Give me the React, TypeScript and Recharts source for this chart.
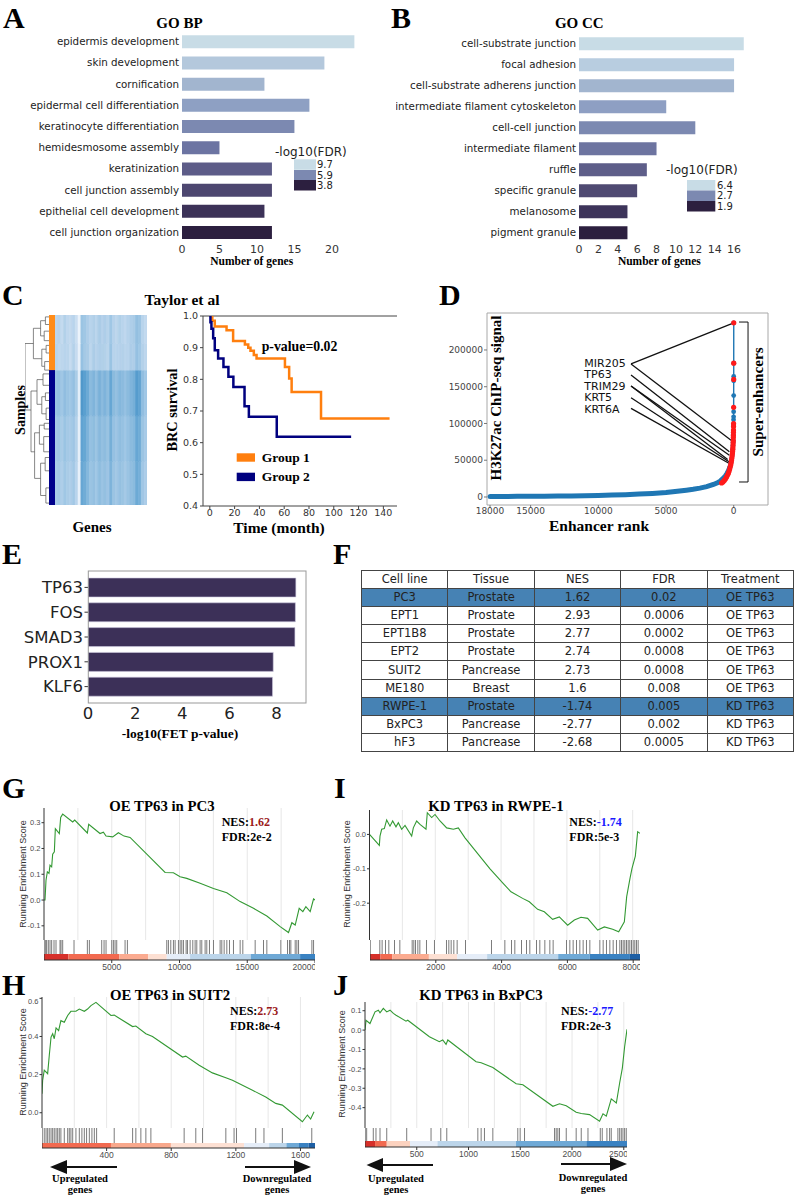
import React from "react";
import {
  BarChart, Bar, XAxis, YAxis, Cell, ComposedChart, LineChart, Line, Scatter,
  ReferenceLine, ReferenceArea,
} from "recharts";

const SANS = "'DejaVu Sans', sans-serif";
const SERIF = "'Liberation Serif', 'Times New Roman', serif";
const ARIAL = "'Liberation Sans', Arial, sans-serif";

// ---------------- Panel A (GO BP) ----------------
const bpTerms = ["epidermis development", "skin development", "cornification", "epidermal cell differentiation", "keratinocyte differentiation", "hemidesmosome assembly", "keratinization", "cell junction assembly", "epithelial cell development", "cell junction organization"];
const bpGenes = [23, 19, 11, 17, 15, 5, 12, 12, 11, 12];
const bpColors = ["#c8dce6", "#b4c8dc", "#a2b5cf", "#8ea0c3", "#7c89b1", "#6c74a2", "#5d5c88", "#4d4770", "#3c3258", "#2c1f3f"];
const bpLegendValues = ["9.7", "5.9", "3.8"];
const bpTicks = [0, 5, 10, 15, 20];

// ---------------- Panel B (GO CC) ----------------
const ccTerms = ["cell-substrate junction", "focal adhesion", "cell-substrate adherens junction", "intermediate filament cytoskeleton", "cell-cell junction", "intermediate filament", "ruffle", "specific granule", "melanosome", "pigment granule"];
const ccGenes = [17, 16, 16, 9, 12, 8, 7, 6, 5, 5];
const ccColors = ["#c8dce6", "#b8cde0", "#a2b5cf", "#8e9fc3", "#7c89b1", "#6d74a0", "#5e5e89", "#4f4a72", "#3d345a", "#2c1f3f"];
const ccLegendValues = ["6.4", "2.7", "1.9"];
const ccTicks = [0, 2, 4, 6, 8, 10, 12, 14, 16];
const legendColors = ["#c8dce6", "#7c89b1", "#2c1f3f"];

// ---------------- Panel C (heatmap + KM) ----------------
const heatG1a = [0.28, 0.30, 0.25, 0.32, 0.27, 0.26, 0.30, 0.22, 0.06, 0.42, 0.40, 0.34, 0.30, 0.33, 0.29, 0.36, 0.31, 0.34, 0.30, 0.40, 0.31, 0.28, 0.33, 0.30, 0.27, 0.31, 0.34, 0.36, 0.45, 0.42, 0.30, 0.26];
const heatG1b = [0.30, 0.27, 0.28, 0.30, 0.29, 0.24, 0.32, 0.24, 0.08, 0.44, 0.38, 0.36, 0.28, 0.35, 0.31, 0.34, 0.33, 0.32, 0.29, 0.42, 0.30, 0.30, 0.31, 0.32, 0.29, 0.30, 0.35, 0.34, 0.44, 0.40, 0.32, 0.28];
const heatG2a = [0.42, 0.44, 0.40, 0.46, 0.42, 0.40, 0.45, 0.36, 0.10, 0.68, 0.64, 0.58, 0.48, 0.52, 0.46, 0.54, 0.48, 0.52, 0.47, 0.60, 0.48, 0.45, 0.50, 0.48, 0.44, 0.48, 0.52, 0.55, 0.66, 0.62, 0.46, 0.40];
const heatG2b = [0.38, 0.40, 0.36, 0.42, 0.38, 0.37, 0.41, 0.32, 0.09, 0.62, 0.60, 0.52, 0.44, 0.47, 0.42, 0.49, 0.45, 0.47, 0.43, 0.55, 0.44, 0.41, 0.46, 0.44, 0.40, 0.44, 0.48, 0.50, 0.60, 0.57, 0.42, 0.37];
const heatG2c = [0.36, 0.38, 0.34, 0.40, 0.36, 0.34, 0.39, 0.30, 0.08, 0.60, 0.57, 0.50, 0.42, 0.45, 0.40, 0.47, 0.42, 0.45, 0.41, 0.52, 0.42, 0.39, 0.44, 0.42, 0.38, 0.42, 0.46, 0.48, 0.58, 0.55, 0.40, 0.35];
const heatRowSamples = [15, 14, 24, 24, 23]; // top to bottom
const groupSamples = [29, 71]; // group 1, group 2
const dendroSegs = [
  [10, 15, 10, 50], [10, 15, 6.5, 15], [10, 50, 7.5, 50],
  [6.5, 7, 6.5, 23], [6.5, 7, 3.5, 7], [6.5, 23, 3, 23],
  [3.5, 3, 3.5, 11], [3.5, 3, 1.5, 3], [3.5, 11, 2, 11],
  [1.5, 1, 1.5, 5], [1.5, 1, 0, 1], [1.5, 5, 0, 5],
  [2, 8.5, 2, 13.5], [2, 8.5, 0, 8.5], [2, 13.5, 0, 13.5],
  [3, 18, 3, 27], [3, 18, 1.2, 18], [3, 27, 1.8, 27],
  [1.2, 16, 1.2, 20], [1.2, 16, 0, 16], [1.2, 20, 0, 20],
  [1.8, 24.5, 1.8, 29], [1.8, 24.5, 0, 24.5], [1.8, 29, 0, 29],
  [7.5, 40, 7.5, 72], [7.5, 40, 5, 40], [7.5, 72, 6, 72],
  [5, 34, 5, 47], [5, 34, 2.5, 34], [5, 47, 3, 47],
  [2.5, 31, 2.5, 37], [2.5, 31, 0, 31], [2.5, 37, 0, 37],
  [3, 43, 3, 52], [3, 43, 1.5, 43], [3, 52, 1.2, 52],
  [1.5, 41, 1.5, 45], [1.5, 41, 0, 41], [1.5, 45, 0, 45],
  [1.2, 49, 1.2, 55], [1.2, 49, 0, 49], [1.2, 55, 0, 55],
  [6, 62, 6, 86], [6, 62, 4, 62], [6, 86, 3.5, 86],
  [4, 58, 4, 68], [4, 58, 2, 58], [4, 68, 2.2, 68],
  [2, 57, 2, 60], [2, 57, 0, 57], [2, 60, 0, 60],
  [2.2, 64, 2.2, 72], [2.2, 64, 0, 64], [2.2, 72, 0, 72],
  [3.5, 78, 3.5, 95], [3.5, 78, 1.6, 78], [3.5, 95, 1.3, 95],
  [1.6, 75, 1.6, 82], [1.6, 75, 0, 75], [1.6, 82, 0, 82],
  [1.3, 91, 1.3, 99], [1.3, 91, 0, 91], [1.3, 99, 0, 99],
];
const km1Time = [0, 2, 4, 13.5, 18.8, 28.3, 31, 32.8, 35.5, 37.7, 60.6, 64, 66, 89.7, 145];
const km1Surv = [1.0, 0.985, 0.967, 0.955, 0.921, 0.91, 0.9, 0.89, 0.877, 0.866, 0.839, 0.803, 0.76, 0.676, 0.676];
const km2Time = [0, 0.5, 1.3, 2.7, 4, 6.7, 11, 15, 19, 28, 31.5, 54, 114];
const km2Surv = [1.0, 0.98, 0.96, 0.93, 0.892, 0.866, 0.839, 0.808, 0.776, 0.715, 0.682, 0.619, 0.619];
const kmTicksX = [0, 20, 40, 60, 80, 100, 120, 140];
const kmTicksY = [0.4, 0.5, 0.6, 0.7, 0.8, 0.9, 1.0];

// ---------------- Panel D (super-enhancers) ----------------
const blueRank = [18000, 17000, 16000, 15000, 14000, 13000, 12000, 11000, 10000, 9000, 8000, 7000, 6000, 5000, 4500, 4000, 3500, 3000, 2500, 2000, 1500, 1200, 1000, 800, 600, 500, 400, 300];
const blueSignal = [500, 700, 850, 950, 1050, 1200, 1400, 1700, 2100, 2600, 3200, 3900, 4800, 6000, 7000, 8200, 9300, 10500, 12000, 14000, 17000, 19500, 21500, 25000, 29000, 32000, 35500, 40000];
const blueTopRank = [300, 250, 200, 150, 120, 100, 80, 60, 50, 40, 30, 20, 15, 10, 7, 5, 3, 2, 1, 0];
const blueTopSignal = [40000, 43000, 47000, 52000, 56000, 60000, 65000, 70000, 74000, 77000, 85000, 98000, 105000, 109000, 116000, 138000, 158000, 164000, 182000, 237000];
const redRank = [0, 1, 3, 8, 12, 15, 18, 22, 26, 30, 36, 42, 50, 60, 70, 85, 100, 120, 140, 165, 190, 220, 260, 300, 350, 400, 470, 540, 620, 700, 800, 900];
const redSignal = [237000, 182000, 160000, 122000, 100000, 96000, 91000, 88000, 84000, 81000, 77000, 74000, 71000, 68000, 65000, 62000, 59000, 56000, 53000, 50000, 47000, 44000, 41000, 38000, 35000, 32000, 29500, 27000, 24500, 22500, 20500, 19000];
const geneLabels = ["MIR205", "TP63", "TRIM29", "KRT5", "KRT6A"];
const geneLabelSignal = [181000, 166000, 151000, 135000, 120500];
const geneLabelRank = 7585;
const geneLinks = [[0, 0, 237000], [0, 199, 77300], [1, 323, 61400], [2, 323, 56800], [2, 448, 50900], [3, 323, 47700], [4, 323, 45500]];
const dTicksX = [18000, 15000, 10000, 5000, 0];
const dTicksY = [0, 50000, 100000, 150000, 200000];

// ---------------- Panel E ----------------
const tfNames = ["TP63", "FOS", "SMAD3", "PROX1", "KLF6"];
const tfScores = [8.82, 8.8, 8.78, 7.86, 7.83];
const tfTicks = [0, 2, 4, 6, 8];

// ---------------- Panel F (table) ----------------
const tableHeader = ["Cell line", "Tissue", "NES", "FDR", "Treatment"];
const cellLines = ["PC3", "EPT1", "EPT1B8", "EPT2", "SUIT2", "ME180", "RWPE-1", "BxPC3", "hF3"];
const tissues = ["Prostate", "Prostate", "Prostate", "Prostate", "Pancrease", "Breast", "Prostate", "Pancrease", "Pancrease"];
const nesValues = ["1.62", "2.93", "2.77", "2.74", "2.73", "1.6", "-1.74", "-2.77", "-2.68"];
const fdrValues = ["0.02", "0.0006", "0.0002", "0.0008", "0.0008", "0.008", "0.005", "0.002", "0.0005"];
const treatments = ["OE TP63", "OE TP63", "OE TP63", "OE TP63", "OE TP63", "OE TP63", "KD TP63", "KD TP63", "KD TP63"];
const highlightedRows = ["PC3", "RWPE-1"];

// ---------------- GSEA panels ----------------
const gRank = [0, 74, 148, 246, 369, 443, 566, 640, 763, 837, 1132, 1231, 1379, 2117, 2265, 3200, 3299, 4136, 4382, 4579, 5071, 5490, 5908, 6352, 8937, 9552, 10044, 10536, 11521, 12506, 13491, 14476, 15460, 16445, 17430, 18045, 18292, 18538, 18833, 19104, 19326, 19646, 19892, 20000];
const gES = [0, 0, 0.077, 0.109, 0.103, 0.135, 0.129, 0.178, 0.187, 0.277, 0.258, 0.32, 0.333, 0.303, 0.31, 0.26, 0.294, 0.258, 0.263, 0.248, 0.245, 0.261, 0.248, 0.243, 0.107, 0.106, 0.09, 0.084, 0.065, 0.045, 0.028, -0.006, -0.032, -0.062, -0.103, -0.126, -0.088, -0.097, -0.032, -0.045, -0.026, -0.045, 0.004, 0.0];
const gHits = [123, 197, 320, 443, 566, 739, 886, 1182, 1256, 1379, 2216, 3200, 3348, 4259, 4432, 4579, 4998, 5121, 5244, 5367, 5983, 6155, 9060, 9183, 9356, 9552, 9676, 9922, 10045, 10168, 10291, 10488, 10587, 10784, 10981, 11153, 11276, 11522, 11645, 11891, 12014, 12212, 12507, 12999, 13122, 13295, 13492, 13689, 13984, 14476, 14673, 15584, 16200, 16446, 17480, 17972, 18120, 18218, 18538, 18661, 18785, 19770, 19893];
const gBars = [[0, 1800, "#d6302a"], [1800, 5560, "#f26a50"], [5560, 7700, "#fbab90"], [7700, 9060, "#fde0d3"], [9060, 10780, "#e5edf8"], [10780, 15260, "#bcd5ea"], [15260, 18900, "#6fa9d6"], [18900, 20000, "#3a82c2"]];

const iRank = [0, 299, 319, 370, 450, 522, 623, 704, 805, 876, 978, 1079, 1282, 1332, 1433, 1535, 1717, 1757, 1890, 1991, 2143, 2346, 2548, 2700, 2903, 3663, 4048, 4301, 4655, 4858, 5111, 5314, 5567, 5770, 6023, 6226, 6429, 6631, 6935, 7138, 7391, 7574, 7746, 7817, 7918, 7979, 8080, 8151, 8222];
const iES = [0, -0.032, -0.005, 0.015, 0.017, 0.042, 0.024, 0.039, 0.022, 0.034, 0.015, 0.026, -0.005, 0.019, 0.039, 0.029, 0.015, 0.063, 0.049, 0.058, 0.039, 0.019, 0.015, 0.019, -0.01, -0.1, -0.141, -0.167, -0.186, -0.196, -0.218, -0.225, -0.247, -0.24, -0.264, -0.249, -0.241, -0.244, -0.278, -0.269, -0.276, -0.283, -0.254, -0.181, -0.128, -0.099, -0.063, 0.008, 0.003];
const iHits = [298, 369, 471, 572, 745, 907, 1282, 1332, 1383, 1454, 1515, 1717, 1960, 2325, 2396, 2467, 2548, 2649, 2903, 3693, 4099, 4301, 4402, 4605, 4757, 4858, 5061, 5162, 5314, 5466, 5567, 5973, 6074, 6175, 6277, 6378, 6479, 6580, 6682, 6986, 7087, 7188, 7290, 7391, 7492, 7593, 7644, 7695, 7745, 7796, 7847, 7897, 7948, 7999, 8049, 8100, 8151];
const iBars = [[0, 320, "#d6302a"], [320, 680, "#f26a50"], [680, 1790, "#fbab90"], [1790, 2650, "#fde0d3"], [2650, 3560, "#e5edf8"], [3560, 5720, "#bcd5ea"], [5720, 6680, "#6fa9d6"], [6680, 7900, "#3a82c2"], [7900, 8222, "#1d5fa5"]];

const hRank = [0, 4, 14, 35, 45, 56, 66, 76, 87, 103, 117, 138, 159, 179, 210, 231, 262, 282, 303, 334, 427, 447, 561, 581, 643, 684, 870, 890, 973, 1055, 1138, 1179, 1303, 1385, 1447, 1488, 1612, 1643, 1663, 1684];
const hES = [0.10, 0.17, 0.223, 0.205, 0.30, 0.397, 0.414, 0.388, 0.445, 0.431, 0.483, 0.475, 0.51, 0.532, 0.532, 0.544, 0.532, 0.544, 0.562, 0.579, 0.51, 0.512, 0.452, 0.455, 0.414, 0.40, 0.292, 0.297, 0.249, 0.209, 0.184, 0.17, 0.118, 0.083, 0.049, 0.04, -0.047, -0.012, -0.033, 0.005];
const hHits = [14, 25, 35, 45, 56, 66, 76, 87, 97, 107, 117, 138, 159, 169, 179, 190, 210, 231, 247, 262, 276, 293, 309, 324, 338, 447, 561, 581, 612, 643, 674, 880, 952, 994, 1138, 1189, 1204, 1323, 1374, 1488, 1670];
const hBars = [[0, 427, "#f26a50"], [427, 798, "#f8a88c"], [798, 1251, "#fde0d3"], [1251, 1406, "#e5edf8"], [1406, 1513, "#bcd5ea"], [1513, 1591, "#6fa9d6"], [1591, 1650, "#3a82c2"], [1650, 1690, "#1d5fa5"]];

const jRank = [0, 10, 48, 97, 129, 145, 177, 210, 242, 274, 300, 396, 413, 622, 718, 751, 783, 800, 1073, 1122, 1235, 1460, 1525, 1815, 1879, 1944, 2040, 2089, 2169, 2266, 2299, 2331, 2379, 2428, 2460, 2486, 2508, 2531];
const jES = [0, 0.05, 0.034, 0.094, 0.103, 0.089, 0.112, 0.094, 0.103, 0.086, 0.077, 0.046, 0.051, -0.034, -0.06, -0.051, -0.074, -0.051, -0.163, -0.168, -0.193, -0.277, -0.282, -0.393, -0.38, -0.39, -0.424, -0.43, -0.436, -0.47, -0.432, -0.444, -0.355, -0.376, -0.273, -0.196, -0.086, 0.004];
const jHits = [16, 80, 106, 145, 210, 403, 638, 732, 790, 1090, 1122, 1154, 1235, 1476, 1499, 1541, 1831, 1847, 1863, 1879, 1944, 2040, 2089, 2154, 2273, 2292, 2337, 2363, 2379, 2443, 2460, 2476, 2492, 2508, 2524];
const jBars = [[0, 97, "#d6302a"], [97, 210, "#f26a50"], [210, 435, "#fcd2bf"], [435, 700, "#e5edf8"], [700, 1459, "#bcd5ea"], [1459, 2138, "#6fa9d6"], [2138, 2531, "#3a82c2"]];

const gseaTitles = ["OE TP63 in PC3", "KD TP63 in RWPE-1", "OE TP63 in SUIT2", "KD TP63 in BxPC3"];
const gseaNES = ["1.62", "-1.74", "2.73", "-2.77"];
const gseaFDR = ["2e-2", "5e-3", "8e-4", "2e-3"];

const gseaPanels = [
  { rank: gRank, es: gES, hits: gHits, bars: gBars, chartLeft: 0, plotLeft: 44, plotRight: 315, esTop: 808, esBottom: 940, rugBottom: 960, barH: 6, xMax: 20000, yDomain: [-0.155, 0.357], yTicks: [-0.1, 0, 0.1, 0.2, 0.3], xTicks: [5000, 10000, 15000, 20000], grid: [2500, 5000, 7500, 10000, 12500, 15000, 17500] },
  { rank: iRank, es: iES, hits: iHits, bars: iBars, chartLeft: 320, plotLeft: 369.5, plotRight: 640, esTop: 810, esBottom: 940, rugBottom: 960, barH: 6, xMax: 8222, yDomain: [-0.307, 0.071], yTicks: [-0.3, -0.2, -0.1, 0], xTicks: [2000, 4000, 6000, 8000], grid: [1000, 2000, 3000, 4000, 5000, 6000, 7000, 8000] },
  { rank: hRank, es: hES, hits: hHits, bars: hBars, chartLeft: 0, plotLeft: 42, plotRight: 315, esTop: 997, esBottom: 1128, rugBottom: 1148, barH: 5, xMax: 1690, yDomain: [-0.08, 0.607], yTicks: [0, 0.2, 0.4, 0.6], xTicks: [400, 800, 1200, 1600], grid: [200, 400, 600, 800, 1000, 1200, 1400, 1600] },
  { rank: jRank, es: jES, hits: jHits, bars: jBars, chartLeft: 320, plotLeft: 365, plotRight: 627, esTop: 1002, esBottom: 1128, rugBottom: 1147, barH: 6, xMax: 2531, yDomain: [-0.505, 0.145], yTicks: [-0.5, -0.4, -0.3, -0.2, -0.1, 0, 0.1], xTicks: [500, 1000, 1500, 2000, 2500], grid: [250, 500, 750, 1000, 1250, 1500, 1750, 2000, 2250, 2500] },
];

// ---------------- helpers ----------------
const bluesStops: [number, number[]][] = [[0, [247, 251, 255]], [0.25, [196, 218, 239]], [0.45, [148, 192, 225]], [0.65, [88, 158, 207]], [0.85, [42, 118, 182]], [1, [12, 74, 143]]];
function blues(v: number) {
  for (let i = 1; i < bluesStops.length; i++) {
    const [p1, c1] = bluesStops[i];
    const [p0, c0] = bluesStops[i - 1];
    if (v <= p1) {
      const t = (v - p0) / (p1 - p0);
      const c = c0.map((a, k) => Math.round(a + (c1[k] - a) * t));
      return `rgb(${c[0]},${c[1]},${c[2]})`;
    }
  }
  return "rgb(12,74,143)";
}

const Abs = ({ left, top, children }: any) => (
  <div style={{ position: "absolute", left, top }}>{children}</div>
);

const Txt = ({ x, y, size, children, font = SERIF, weight = 700, anchor = "middle", fill = "#000", rot = 0 }: any) => (
  <text x={x} y={y} fontSize={size} fontFamily={font} fontWeight={weight} textAnchor={anchor} dominantBaseline="central" fill={fill}
    transform={rot ? `rotate(${rot} ${x} ${y})` : undefined}>{children}</text>
);

const makeCatTick = (size: number, fill: string) => (props: any) => (
  <text x={props.x} y={props.y} dy="0.35em" textAnchor="end" fontSize={size} fontFamily={SANS} fill={fill}>
    {props.payload.value}
  </text>
);

function GoBars({ left, width, terms, genes, colors, marginTop, marginRight, yWidth, domainMax, ticks }: any) {
  const data = terms.map((term: string, i: number) => ({ term, genes: genes[i] }));
  return (
    <Abs left={left} top={0}>
      <BarChart width={width} height={270} data={data} layout="vertical" margin={{ top: marginTop, right: marginRight, bottom: 0, left: 0 }} barCategoryGap="20%">
        <XAxis type="number" domain={[0, domainMax]} allowDataOverflow ticks={ticks} height={27} axisLine={false} tickLine={false} tickSize={0} tickMargin={2}
          tick={{ fontSize: 11, fill: "#333", fontFamily: SANS }} />
        <YAxis type="category" dataKey="term" width={yWidth} axisLine={false} tickLine={false} tickSize={0} tickMargin={3} interval={0}
          tick={makeCatTick(10.3, "#222")} />
        <Bar dataKey="genes" isAnimationActive={false}>
          {colors.map((c: string, i: number) => <Cell key={i} fill={c} />)}
        </Bar>
      </BarChart>
    </Abs>
  );
}

function Heatmap() {
  const rowsTopToBottom = [heatG1a, heatG1b, heatG2a, heatG2b, heatG2c];
  const data = heatG1a.map((_, c) => {
    const o: any = { c };
    heatRowSamples.forEach((n, r) => { o["r" + r] = n; });
    return o;
  });
  const order = [4, 3, 2, 1, 0];
  return (
    <>
      <Abs left={55} top={315}>
        <BarChart width={92} height={190} data={data} margin={{ top: 0, right: 0, bottom: 0, left: 0 }} barCategoryGap={0} barGap={0}>
          <XAxis dataKey="c" hide />
          <YAxis type="number" domain={[0, 100]} hide />
          {order.map((r) => (
            <Bar key={r} dataKey={"r" + r} stackId="h" isAnimationActive={false}>
              {rowsTopToBottom[r].map((v, i) => <Cell key={i} fill={blues(v)} stroke={blues(v)} strokeWidth={0.6} />)}
            </Bar>
          ))}
        </BarChart>
      </Abs>
      <Abs left={49} top={315}>
        <BarChart width={6} height={190} data={[{ g: "samples", g1: groupSamples[0], g2: groupSamples[1] }]} margin={{ top: 0, right: 0, bottom: 0, left: 0 }} barCategoryGap={0}>
          <XAxis dataKey="g" hide />
          <YAxis type="number" domain={[0, 100]} hide />
          <Bar dataKey="g2" stackId="s" fill="#00008b" isAnimationActive={false} />
          <Bar dataKey="g1" stackId="s" fill="#ff8c1a" isAnimationActive={false} />
        </BarChart>
      </Abs>
      <Abs left={25} top={315}>
        <ComposedChart width={24} height={190} margin={{ top: 0, right: 0, bottom: 0, left: 0 }}>
          <XAxis type="number" dataKey="x" domain={[0, 10]} reversed hide />
          <YAxis type="number" dataKey="y" domain={[0, 100]} reversed hide />
          {dendroSegs.map((s, i) => (
            <Line key={i} data={[{ x: s[0], y: s[1] }, { x: s[2], y: s[3] }]} dataKey="y" stroke="#555" strokeWidth={0.7} dot={false} isAnimationActive={false} />
          ))}
        </ComposedChart>
      </Abs>
    </>
  );
}

function KaplanMeier() {
  const d1 = km1Time.map((t, i) => ({ t, s: km1Surv[i] }));
  const d2 = km2Time.map((t, i) => ({ t, s: km2Surv[i] }));
  const tick = { fontSize: 9.5, fill: "#333", fontFamily: SANS };
  return (
    <Abs left={150} top={300}>
      <ComposedChart width={250} height={240} margin={{ top: 16, right: 3, bottom: 0, left: 0 }}>
        <XAxis type="number" dataKey="t" domain={[-5.5, 151]} allowDataOverflow ticks={kmTicksX} height={34} tickSize={3} tickMargin={0}
          tick={tick} axisLine={{ stroke: "#444" }} tickLine={{ stroke: "#444" }} />
        <YAxis type="number" dataKey="s" domain={[0.4, 1.0]} allowDataOverflow ticks={kmTicksY} width={53} tickSize={3} tickMargin={2}
          tickFormatter={(v: number) => v.toFixed(1)} tick={tick} axisLine={{ stroke: "#444" }} tickLine={{ stroke: "#444" }} />
        <ReferenceLine y={1.0} stroke="#444" strokeWidth={1} />
        <Line data={d1} dataKey="s" type="stepAfter" stroke="#ff7f0e" strokeWidth={2.5} dot={false} isAnimationActive={false} />
        <Line data={d2} dataKey="s" type="stepAfter" stroke="#00007f" strokeWidth={2.5} dot={false} isAnimationActive={false} />
      </ComposedChart>
    </Abs>
  );
}

function SuperEnhancers() {
  const band = blueRank.map((r, i) => ({ r, s: blueSignal[i] }));
  const top = blueTopRank.map((r, i) => ({ r, s: blueTopSignal[i] }));
  const red = redRank.map((r, i) => ({ r, s: redSignal[i] }));
  const tick = { fontSize: 9, fill: "#444", fontFamily: SANS };
  return (
    <Abs left={400} top={300}>
      <ComposedChart width={396} height={225} margin={{ top: 13, right: 28, bottom: 0, left: 0 }}>
        <XAxis type="number" dataKey="r" domain={[-2530, 18222]} reversed allowDataOverflow ticks={dTicksX} height={20} tickSize={3} tickMargin={0}
          axisLine={false} tickLine={{ stroke: "#777" }} tick={tick} />
        <YAxis type="number" dataKey="s" domain={[-10900, 250300]} allowDataOverflow ticks={dTicksY} width={87} tickSize={3} tickMargin={1}
          axisLine={false} tickLine={{ stroke: "#777" }} tick={tick} />
        <ReferenceArea x1={-2530} x2={18222} y1={-10900} y2={250300} fill="none" stroke="#a8a8a8" strokeWidth={1} />
        <Line data={band} dataKey="s" stroke="#1f77b4" strokeWidth={5} strokeLinecap="round" dot={false} isAnimationActive={false} />
        <Line data={top} dataKey="s" stroke="#1f77b4" strokeWidth={1.4} dot={{ r: 2.4, fill: "#1f77b4", stroke: "none" }} isAnimationActive={false} />
        <Scatter data={red} dataKey="s" isAnimationActive={false}
          shape={(p: any) => <circle cx={p.cx} cy={p.cy} r={2.6} fill="#ff1a1a" />} />
        {geneLinks.map((l, i) => (
          <ReferenceLine key={i} segment={[{ x: geneLabelRank, y: geneLabelSignal[l[0]] }, { x: l[1], y: l[2] }]} stroke="#111" strokeWidth={1.3} />
        ))}
        <ReferenceLine segment={[{ x: -1056, y: 238000 }, { x: -1056, y: 20400 }]} stroke="#111" strokeWidth={1} ifOverflow="visible" />
        <ReferenceLine segment={[{ x: -1056, y: 238000 }, { x: -391, y: 238000 }]} stroke="#111" strokeWidth={1} ifOverflow="visible" />
        <ReferenceLine segment={[{ x: -1056, y: 20400 }, { x: -391, y: 20400 }]} stroke="#111" strokeWidth={1} ifOverflow="visible" />
      </ComposedChart>
    </Abs>
  );
}

function TfBars() {
  const data = tfNames.map((name, i) => ({ name, score: tfScores[i] }));
  const tick = { fontSize: 16.5, fill: "#222", fontFamily: SANS };
  return (
    <Abs left={0} top={560}>
      <BarChart width={320} height={170} data={data} layout="vertical" margin={{ top: 15, right: 14, bottom: 0, left: 0 }}>
        <XAxis type="number" domain={[0, 9.25]} allowDataOverflow ticks={tfTicks} height={31} axisLine={false} tickLine={false} tickSize={0} tickMargin={8} tick={tick} />
        <YAxis type="category" dataKey="name" width={88} axisLine={false} tickLine={{ stroke: "#333" }} tickSize={3.5} tickMargin={1.5} interval={0} tick={makeCatTick(16.5, "#222")} />
        <Bar dataKey="score" fill="#3c3058" stroke="#cfcbe0" strokeWidth={0.6} barSize={19} isAnimationActive={false} />
      </BarChart>
    </Abs>
  );
}

function GseaTable() {
  const cell: any = { border: "1px solid #444", textAlign: "center", padding: 0, height: 17, lineHeight: "17px", overflow: "hidden", whiteSpace: "nowrap" };
  return (
    <table style={{ position: "absolute", left: 361, top: 570, width: 433, height: 182, borderCollapse: "collapse", tableLayout: "fixed", fontFamily: SANS, fontSize: 11.5, color: "#222" }}>
      <tbody>
        <tr>{tableHeader.map((h) => <td key={h} style={cell}>{h}</td>)}</tr>
        {cellLines.map((c, i) => {
          const bg = highlightedRows.includes(c) ? "#4682b4" : "#fff";
          const vals = [c, tissues[i], nesValues[i], fdrValues[i], treatments[i]];
          return (
            <tr key={c}>{vals.map((v, k) => <td key={k} style={{ ...cell, background: bg }}>{v}</td>)}</tr>
          );
        })}
      </tbody>
    </table>
  );
}

function GseaPlot({ g }: any) {
  const esData = g.rank.map((x: number, i: number) => ({ x, y: g.es[i] }));
  const hPlot = g.rugBottom - g.esBottom;
  const rugLen = hPlot - g.barH;
  const hitData = g.hits.map((h: number) => ({ x: h, y: 1 }));
  return (
    <>
      <Abs left={g.chartLeft} top={g.esTop}>
        <LineChart width={g.plotRight - g.chartLeft} height={g.esBottom - g.esTop} data={esData} margin={{ top: 0, right: 0, bottom: 0, left: 0 }}>
          <XAxis type="number" dataKey="x" domain={[0, g.xMax]} allowDataOverflow hide />
          <YAxis type="number" dataKey="y" domain={g.yDomain} allowDataOverflow ticks={g.yTicks} width={g.plotLeft - g.chartLeft}
            tickFormatter={(v: number) => v.toFixed(1)} tickSize={2.5} tickMargin={1}
            tick={{ fontSize: 7.5, fill: "#4d4d4d", fontFamily: ARIAL }} tickLine={{ stroke: "#333" }} axisLine={{ stroke: "#333" }} />
          {g.grid.map((x: number) => <ReferenceLine key={x} x={x} stroke="#e4e4e4" strokeWidth={0.9} />)}
          <Line type="linear" dataKey="y" stroke="#339933" strokeWidth={1.1} dot={false} isAnimationActive={false} />
        </LineChart>
      </Abs>
      <Abs left={g.plotLeft} top={g.esBottom}>
        <ComposedChart width={g.plotRight - g.plotLeft} height={hPlot + 16} margin={{ top: 0, right: 0, bottom: 0, left: 0 }}>
          <XAxis type="number" dataKey="x" domain={[0, g.xMax]} allowDataOverflow ticks={g.xTicks} height={16} tickSize={3} tickMargin={1}
            tick={{ fontSize: 8.5, fill: "#4d4d4d", fontFamily: ARIAL }} tickLine={{ stroke: "#333" }} axisLine={{ stroke: "#333" }} />
          <YAxis type="number" dataKey="y" domain={[0, 1]} hide />
          {g.bars.map((b: any, i: number) => (
            <ReferenceArea key={i} x1={b[0]} x2={b[1]} y1={0} y2={g.barH / hPlot} fill={b[2]} fillOpacity={1} stroke="none" />
          ))}
          <ReferenceLine x={0} stroke="#333" strokeWidth={1} />
          <Scatter data={hitData} isAnimationActive={false}
            shape={(p: any) => <line x1={p.cx} x2={p.cx} y1={p.cy} y2={p.cy + rugLen} stroke="#3a3a3a" strokeOpacity={0.75} strokeWidth={0.9} />} />
        </ComposedChart>
      </Abs>
    </>
  );
}

const panelLetters: [string, number, number][] = [["A", 3, 17], ["B", 391, 17], ["C", 2, 294], ["D", 439, 294], ["E", 2, 553], ["F", 333, 553], ["G", 2, 787], ["I", 334, 787], ["H", 2, 984], ["J", 333, 984]];

function Overlay() {
  const legendRowsA = [159.3, 170, 180];
  const legendRowsB = [180, 190.5, 201];
  const geneLabelY = [363, 374.5, 386, 397.5, 409];
  const titlePos = [[162, 806], [496, 806], [170, 995], [481, 995]];
  const nesPos = [[221.7, 821.7], [569.3, 821.7], [230, 1011], [561, 1011]];
  const ylabPos = [[23, 874], [347, 874], [23, 1062], [342, 1064]];
  return (
    <svg width={796} height={1197} style={{ position: "absolute", left: 0, top: 0, pointerEvents: "none" }}>
      {panelLetters.map(([l, x, y]) => <Txt key={l} x={x} y={y} size={30} anchor="start">{l}</Txt>)}

      {/* A */}
      <Txt x={179.5} y={23} size={15}>GO BP</Txt>
      <Txt x={251.7} y={261} size={11.5}>Number of genes</Txt>
      <Txt x={275} y={152} size={12} font={SANS} weight={400} anchor="start" fill="#222">-log10(FDR)</Txt>
      {legendRowsA.map((y, i) => <rect key={i} x={294} y={y} width={22} height={10.5} fill={legendColors[i]} />)}
      {bpLegendValues.map((v, i) => <Txt key={v} x={317} y={legendRowsA[i] + 5} size={10} font={SANS} weight={400} anchor="start" fill="#222">{v}</Txt>)}

      {/* B */}
      <Txt x={579.3} y={23} size={15}>GO CC</Txt>
      <Txt x={659.3} y={261} size={11.5}>Number of genes</Txt>
      <Txt x={666} y={170} size={12} font={SANS} weight={400} anchor="start" fill="#222">-log10(FDR)</Txt>
      {legendRowsB.map((y, i) => <rect key={i} x={687} y={y} width={28.3} height={10.5} fill={legendColors[i]} />)}
      {ccLegendValues.map((v, i) => <Txt key={v} x={717} y={legendRowsB[i] + 5} size={10} font={SANS} weight={400} anchor="start" fill="#222">{v}</Txt>)}

      {/* C */}
      <Txt x={182} y={299} size={15.5}>Taylor et al</Txt>
      <Txt x={20.5} y={410} size={14} rot={-90}>Samples</Txt>
      <Txt x={92} y={527} size={15}>Genes</Txt>
      <Txt x={172} y={410} size={14.3} rot={-90}>BRC survival</Txt>
      <Txt x={279} y={527} size={15.5}>Time (month)</Txt>
      <Txt x={261.7} y={346} size={13.8} anchor="start">p-value=0.02</Txt>
      <rect x={236.7} y={453.3} width={18.3} height={8.4} fill="#ff7f0e" />
      <rect x={236.7} y={472.7} width={18.3} height={8.4} fill="#00007f" />
      <Txt x={261.7} y={457.5} size={13.5} anchor="start">Group 1</Txt>
      <Txt x={261.7} y={476.7} size={13.5} anchor="start">Group 2</Txt>

      {/* D */}
      <Txt x={496} y={398} size={15} rot={-90}>H3K27ac ChIP-seq signal</Txt>
      <Txt x={757} y={402} size={15.2} rot={-90}>Super-enhancers</Txt>
      <Txt x={599} y={525} size={15.5}>Enhancer rank</Txt>
      {geneLabels.map((g, i) => <Txt key={g} x={584.3} y={geneLabelY[i]} size={11} font={SANS} weight={400} anchor="start" fill="#111">{g}</Txt>)}

      {/* E */}
      <rect x={88.3} y={571} width={217.7} height={132} fill="none" stroke="#999" strokeWidth={1} />
      <Txt x={180} y={733} size={13.5}>-log10(FET p-value)</Txt>

      {/* GSEA texts */}
      {gseaTitles.map((t, i) => <Txt key={t} x={titlePos[i][0]} y={titlePos[i][1]} size={14.8}>{t}</Txt>)}
      {gseaNES.map((n, i) => (
        <Txt key={n} x={nesPos[i][0]} y={nesPos[i][1]} size={12} anchor="start">
          NES:<tspan fill={n.startsWith("-") ? "#1a1aff" : "#9b1b1b"}>{n}</tspan>
        </Txt>
      ))}
      {gseaFDR.map((f, i) => <Txt key={f} x={nesPos[i][0]} y={nesPos[i][1] + 15} size={12} anchor="start">FDR:{f}</Txt>)}
      {ylabPos.map(([x, y], i) => <Txt key={i} x={x} y={y} size={9} font={ARIAL} weight={400} rot={-90} fill="#333">Running Enrichment Score</Txt>)}

      {/* arrows H */}
      <line x1={66} y1={1167} x2={117} y2={1167} stroke="#111" strokeWidth={2.2} />
      <polygon points="50,1167 67,1160 67,1174" fill="#111" />
      <line x1={245} y1={1167} x2={294} y2={1167} stroke="#111" strokeWidth={2.2} />
      <polygon points="311,1167 294,1160 294,1174" fill="#111" />
      <Txt x={80} y={1178} size={10.5}>Upregulated</Txt>
      <Txt x={80} y={1189} size={10.5}>genes</Txt>
      <Txt x={277} y={1178} size={10.5}>Downregulated</Txt>
      <Txt x={277} y={1189} size={10.5}>genes</Txt>
      {/* arrows J */}
      <line x1={382} y1={1165} x2={433} y2={1165} stroke="#111" strokeWidth={2.2} />
      <polygon points="366.5,1165 383,1158 383,1172" fill="#111" />
      <line x1={561} y1={1164} x2={610} y2={1164} stroke="#111" strokeWidth={2.2} />
      <polygon points="627,1164 610,1157 610,1171" fill="#111" />
      <Txt x={396} y={1178} size={10.5}>Upregulated</Txt>
      <Txt x={396} y={1189} size={10.5}>genes</Txt>
      <Txt x={593} y={1177} size={10.5}>Downregulated</Txt>
      <Txt x={593} y={1188} size={10.5}>genes</Txt>
    </svg>
  );
}

export default function App() {
  return (
    <div style={{ position: "absolute", left: 0, top: 0, width: 796, height: 1197, background: "#fff", overflow: "hidden" }}>
      <GoBars left={0} width={396} terms={bpTerms} genes={bpGenes} colors={bpColors} marginTop={31} marginRight={33} yWidth={182} domainMax={24.15} ticks={bpTicks} />
      <GoBars left={396} width={400} terms={ccTerms} genes={ccGenes} colors={ccColors} marginTop={33} marginRight={44} yWidth={183} domainMax={17.85} ticks={ccTicks} />
      <Heatmap />
      <KaplanMeier />
      <SuperEnhancers />
      <TfBars />
      <GseaTable />
      {gseaPanels.map((g, i) => <GseaPlot key={i} g={g} />)}
      <Overlay />
    </div>
  );
}
